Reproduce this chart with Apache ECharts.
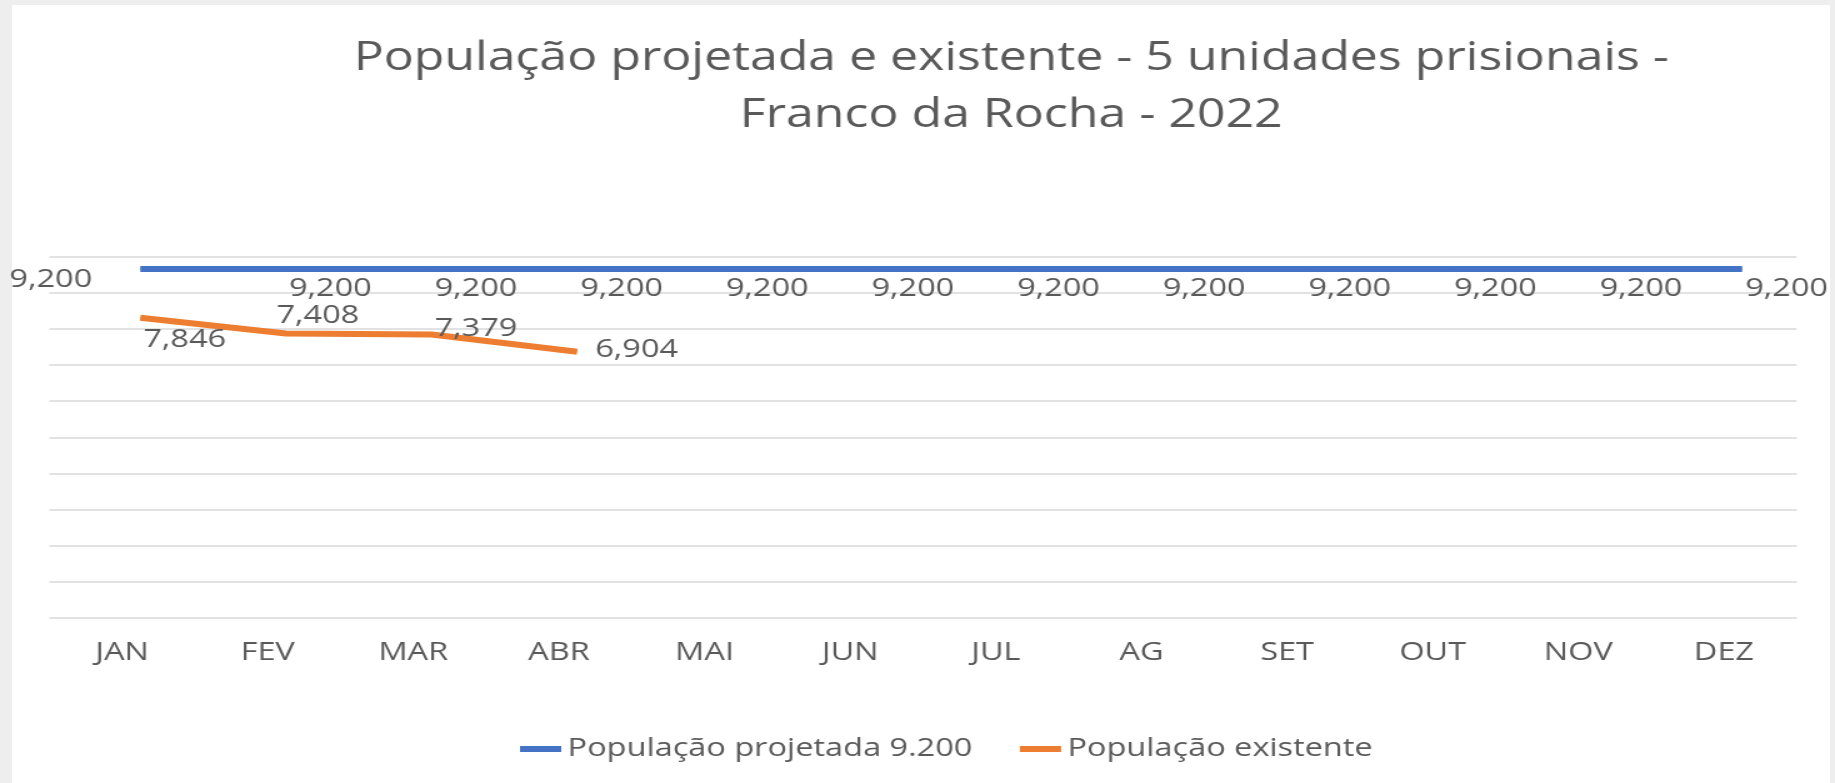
<!DOCTYPE html>
<html>
<head>
<meta charset="utf-8">
<script src="https://cdn.jsdelivr.net/npm/echarts@6/dist/echarts.min.js"></script>
<style>
  html, body { margin: 0; height: 100%; background: #eeeeee; overflow: hidden; }
  #panel { position: absolute; left: 12px; top: 5px; width: 1818px; height: 778px; background: #fff; }
  /* the reference is stretched sideways, so the chart is drawn narrower and widened */
  #chart { position: absolute; left: 0; top: 0; width: 1468px; height: 783px; transform: scaleX(1.25); transform-origin: 0 0; }
</style>
</head>
<body>
<div id="panel"></div>
<div id="chart"></div>
<script>
const months = ['JAN', 'FEV', 'MAR', 'ABR', 'MAI', 'JUN', 'JUL', 'AG', 'SET', 'OUT', 'NOV', 'DEZ']
const projetada = [9200, 9200, 9200, 9200, 9200, 9200, 9200, 9200, 9200, 9200, 9200, 9200]
const existente = [7846, 7408, 7379, 6904]
const yMin = 0
const yMax = 10000
const yStep = 1000

// where each data label sits around its point
const projLabels = months.map((m, i) => i === 0
  ? { position: 'left', distance: 38, offset: [0, 11] }
  : { position: 'right', distance: 2, offset: [0, 20] })
const existLabels = [
  { position: 'right', distance: 2, offset: [0, 22] },
  { position: 'right', distance: 0, offset: [-8, -18] },
  { position: 'right', distance: 2, offset: [0, -6] },
  { position: 'right', distance: 14, offset: [0, -2] }
]

const txt = '#595959'
const font = 'Open Sans'
const fmt = p => Number(p.value).toLocaleString('en-US')

const chart = echarts.init(document.getElementById('chart'))
chart.setOption({
  backgroundColor: 'transparent',
  color: ['#4472c4', '#ed7d31'],
  textStyle: { fontFamily: font },
  title: {
    text: 'População projetada e existente - 5 unidades prisionais -\nFranco da Rocha - 2022',
    left: 809,
    textAlign: 'center',
    top: 30,
    padding: 0,
    textStyle: { fontFamily: font, fontSize: 40, fontWeight: 'normal', color: txt, lineHeight: 57 }
  },
  legend: {
    left: 411,
    top: 731,
    icon: 'rect',
    itemWidth: 33,
    itemHeight: 6,
    itemGap: 38,
    textStyle: { fontFamily: font, fontSize: 26, color: txt },
    data: ['População projetada 9.200', 'População existente']
  },
  grid: [
    // gridlines and month labels
    { left: 39.4, top: 257, width: 1398, height: 360.5 },
    // the plotted lines sit a little right of and above the gridlines
    { left: 54, top: 240.1, width: 1398, height: 360.5 }
  ],
  xAxis: [
    {
      gridIndex: 0,
      type: 'category',
      data: months,
      boundaryGap: true,
      axisLine: { show: false },
      axisTick: { show: false },
      axisLabel: { color: txt, fontSize: 26, margin: 22, fontFamily: font }
    },
    { gridIndex: 1, type: 'category', data: months, boundaryGap: true, show: false }
  ],
  yAxis: [
    {
      gridIndex: 0,
      type: 'value',
      min: yMin,
      max: yMax,
      interval: yStep,
      axisLine: { show: false },
      axisTick: { show: false },
      axisLabel: { show: false },
      splitLine: { lineStyle: { color: '#d9d9d9', width: 1.5 } }
    },
    { gridIndex: 1, type: 'value', min: yMin, max: yMax, show: false, splitLine: { show: false } }
  ],
  series: [
    {
      name: 'População projetada 9.200',
      type: 'line',
      xAxisIndex: 1,
      yAxisIndex: 1,
      symbol: 'circle',
      symbolSize: 1,
      showSymbol: true,
      lineStyle: { width: 6 },
      label: { show: true, formatter: fmt, color: txt, fontSize: 26, fontFamily: font },
      data: projetada.map((v, i) => ({ value: v, label: projLabels[i] }))
    },
    {
      name: 'População existente',
      type: 'line',
      xAxisIndex: 1,
      yAxisIndex: 1,
      symbol: 'circle',
      symbolSize: 1,
      showSymbol: true,
      lineStyle: { width: 6 },
      label: { show: true, formatter: fmt, color: txt, fontSize: 26, fontFamily: font },
      data: existente.map((v, i) => ({ value: v, label: existLabels[i] }))
    }
  ]
})
</script>
</body>
</html>
